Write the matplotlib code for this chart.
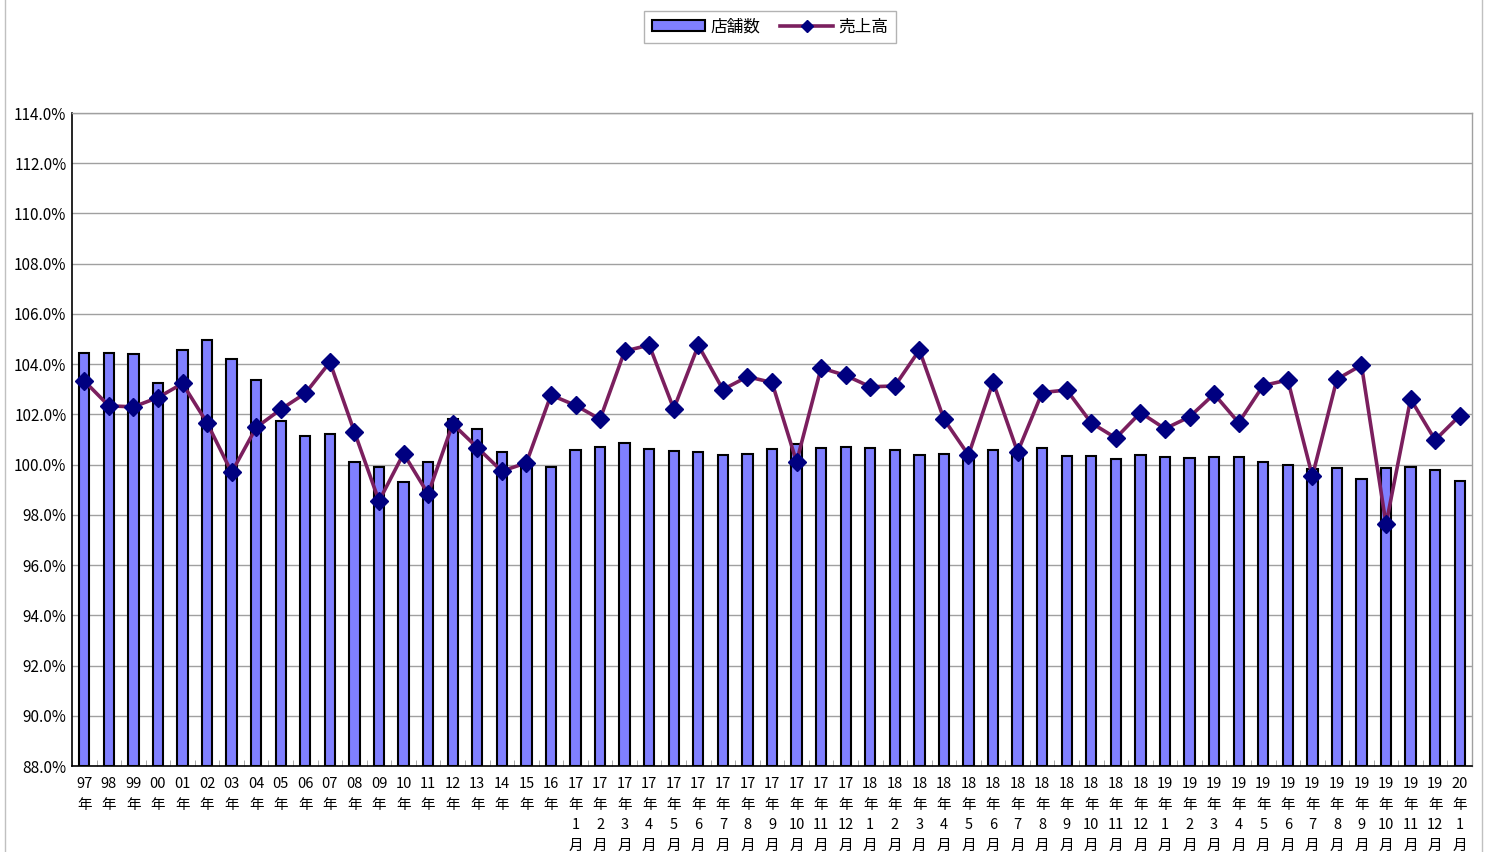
import matplotlib
matplotlib.use("Agg")
import matplotlib.pyplot as plt
from matplotlib.lines import Line2D
from matplotlib.patches import Patch
import numpy as np

plt.rcParams['font.family'] = ['Noto Sans CJK JP', 'DejaVu Sans']

years = ["97", "98", "99", "00", "01", "02", "03", "04", "05", "06", "07", "08",
         "09", "10", "11", "12", "13", "14", "15", "16"]
monthly = [("17", m) for m in range(1, 13)] + [("18", m) for m in range(1, 13)] + \
          [("19", m) for m in range(1, 13)] + [("20", 1)]
labels = [f"{y}\n年" for y in years] + [f"{y}\n年\n{m}\n月" for y, m in monthly]

stores = [104.44, 104.44, 104.40, 103.25, 104.56, 104.96, 104.20, 103.37, 101.73, 101.14,
          101.20, 100.11, 99.89, 99.31, 100.11, 101.81, 101.43, 100.50, 100.02, 99.90,
          100.58, 100.70, 100.85, 100.63, 100.55, 100.50, 100.37, 100.42, 100.64, 100.82,
          100.67, 100.70,
          100.67, 100.58, 100.40, 100.44, 100.38, 100.58, 100.36, 100.67, 100.34, 100.34,
          100.24, 100.38,
          100.31, 100.28, 100.31, 100.31, 100.11, 99.99, 99.81, 99.86, 99.41, 99.87,
          99.92, 99.79,
          99.35]

sales = [103.33, 102.34, 102.30, 102.67, 103.23, 101.66, 99.69, 101.48, 102.20, 102.84,
         104.08, 101.30, 98.55, 100.44, 98.83, 101.62, 100.68, 99.74, 100.07, 102.77,
         102.36, 101.81, 104.52, 104.76, 102.22, 104.75, 102.99, 103.50, 103.27, 100.11,
         103.85, 103.55,
         103.10, 103.13, 104.56, 101.81, 100.38, 103.29, 100.50, 102.87, 102.97, 101.66,
         101.06, 102.07,
         101.43, 101.90, 102.81, 101.67, 103.15, 103.37, 99.54, 103.40, 103.96, 97.63,
         102.61, 100.98,
         101.95]

series_names = ["店舗数", "売上高"]
yticks = np.arange(88, 114.01, 2)

fig = plt.figure(figsize=(14.85, 8.52), dpi=100)
ax = fig.add_axes([72/1485, 1-766/852, 1400/1485, 653/852])

x = np.arange(len(labels))
bar_color = "#8080FF"
line_color = "#7B1F5E"
marker_color = "#000080"

ax.bar(x, [s - 88 for s in stores], bottom=88, width=0.42, color=bar_color,
       edgecolor="black", linewidth=1.5, zorder=3)
ax.plot(x, sales, color=line_color, linewidth=2.6, marker="D", markersize=9,
        markerfacecolor=marker_color, markeredgecolor=marker_color, zorder=4)

ax.set_xlim(-0.5, len(labels) - 0.5)
ax.set_ylim(88, 114)
ax.set_yticks(yticks)
ax.set_yticklabels([f"{v:.1f}%" for v in yticks], fontsize=11)
ax.set_xticks(x)
ax.set_xticklabels(labels, fontsize=10.5, linespacing=1.6, va="top")
ax.tick_params(axis="x", length=0, pad=8)
ax.tick_params(axis="y", length=0, pad=4)
ax.set_xticks(np.arange(-0.5, len(labels), 1), minor=True)
ax.tick_params(axis="x", which="minor", direction="in", length=4, color="#999999")
ax.grid(axis="y", color="#A0A0A0", linewidth=1, zorder=0)

for side in ["top", "right"]:
    ax.spines[side].set_color("#A0A0A0")
    ax.spines[side].set_linewidth(1)
for side in ["left", "bottom"]:
    ax.spines[side].set_color("black")
    ax.spines[side].set_linewidth(1.2)

# outer chart border
fig.add_artist(Line2D([5/1485, 5/1485], [0, 1], color="#C0C0C0", linewidth=1))
fig.add_artist(Line2D([1482/1485, 1482/1485], [0, 1], color="#C0C0C0", linewidth=1))

handles = [Patch(facecolor=bar_color, edgecolor="black", linewidth=1.5),
           Line2D([0], [0], color=line_color, linewidth=2.6, marker="D", markersize=6,
                  markerfacecolor=marker_color, markeredgecolor=marker_color)]
leg = fig.legend(handles, series_names, loc="center", bbox_to_anchor=(770/1485, 1-27/852),
                 ncol=2, fontsize=12, frameon=True, fancybox=False, edgecolor="#A0A0A0",
                 handlelength=3.2, handleheight=0.6, columnspacing=1.2, handletextpad=0.3,
                 borderpad=0.45)
leg.get_frame().set_linewidth(1)

fig.savefig("out.png", dpi=100)
